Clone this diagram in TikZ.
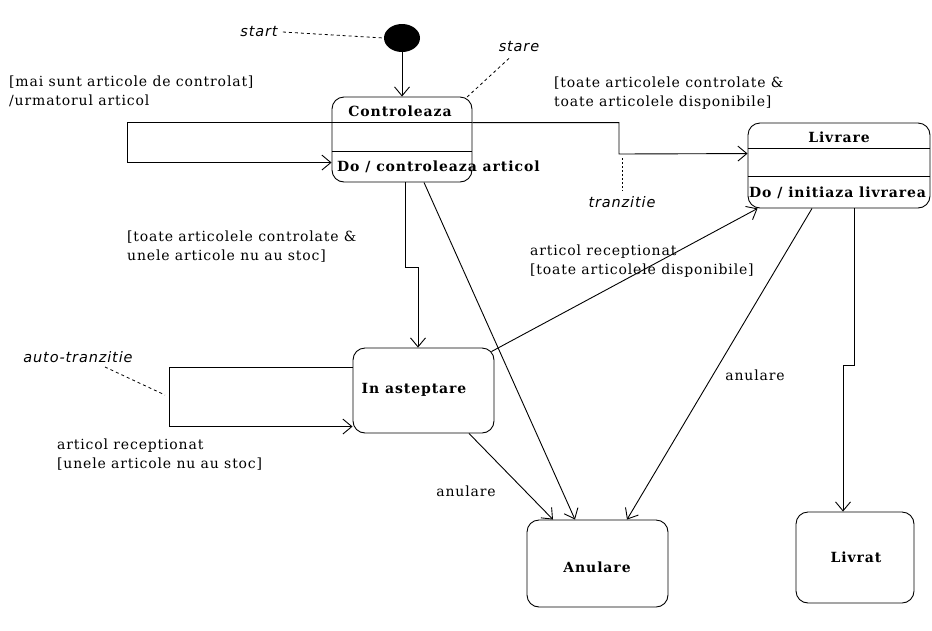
\documentclass[tikz,border=0pt]{standalone}
\usepackage{fontspec}
\setmainfont{DejaVu Serif}
\newfontfamily\notefont{DejaVu Sans}[LetterSpace=6]
\newfontfamily\lblfont{DejaVu Serif}[LetterSpace=6]
\newfontfamily\ttlfont{DejaVu Serif}[LetterSpace=6.5]
\usetikzlibrary{arrows.meta,shapes.geometric}
\begin{document}
\begin{tikzpicture}[x=1pt,y=-1pt,
  state/.style={draw, rounded corners=12pt, line width=0.9pt, inner sep=0pt},
  arr/.style={draw, line width=0.9pt, -{Straight Barb[length=9pt,width=15pt,line width=0.9pt]}},
  ln/.style={line width=0.9pt},
  lbl/.style={font=\lblfont\fontsize{14}{19}\selectfont, align=left, inner sep=0pt},
  ttl/.style={font=\ttlfont\fontsize{14}{16}\selectfont\bfseries, inner sep=0pt},
  note/.style={font=\notefont\itshape\fontsize{14.5}{17}\selectfont, inner sep=0pt},
  notelink/.style={line width=0.8pt, dash pattern=on 3pt off 3pt},
  dotlink/.style={line width=1pt, dash pattern=on 2pt off 2pt}
]
\fill[white] (0,0) rectangle (932,630);
\useasboundingbox (0,0) rectangle (932,630);

% states
\node[ellipse, fill=black, minimum width=36pt, minimum height=28pt, inner sep=0pt] (start) at (402,38) {};
\node[state, minimum width=140pt, minimum height=85pt] (ctrl) at (402,139.5) {};
\node[state, minimum width=182pt, minimum height=85pt] (liv) at (839,165.5) {};
\node[state, minimum width=141pt, minimum height=85pt] (wait) at (423.5,390.5) {};
\node[state, minimum width=141pt, minimum height=87pt] (anul) at (597.5,563.5) {};
\node[state, minimum width=118pt, minimum height=91pt] (livrat) at (855,557.5) {};

% compartments
\draw[ln] ([yshift=-26pt]ctrl.north west) -- ([yshift=-26pt]ctrl.north east);
\draw[ln] ([yshift=-55pt]ctrl.north west) -- ([yshift=-55pt]ctrl.north east);
\draw[ln] ([yshift=-26pt]liv.north west) -- ([yshift=-26pt]liv.north east);
\draw[ln] ([yshift=-54pt]liv.north west) -- ([yshift=-54pt]liv.north east);

% state texts
\node[ttl] (tctrl) at (400,111) {Controleaza};
\node[ttl, anchor=west] (dctrl) at (337,167) {Do / controleaza articol};
\node[ttl] (tliv) at (839,137) {Livrare};
\node[ttl, anchor=west] (dliv) at (749,193) {Do / initiaza livrarea};
\node[ttl] (twait) at (414,390) {In asteptare};
\node[ttl] (tanul) at (597,567) {Anulare};
\node[ttl] (tlivrat) at (856,557) {Livrat};

% transitions
\draw[arr] (start) -- (ctrl);
\draw[arr] ([yshift=-26pt]ctrl.north west) -- ++(-204,0) -- ++(0,40) -- ([yshift=-66pt]ctrl.north west);
\coordinate (tz) at (619,154);
\draw[arr] ([yshift=-26pt]ctrl.north east) -| (tz) -- ([yshift=-31pt]liv.north west);
\draw[arr] ([xshift=3pt]ctrl.south) -- ++(0,85) -| ([xshift=-5.5pt]wait.north);
\draw[arr] ([xshift=22pt]ctrl.south) -- ([xshift=-22.5pt]anul.north);
\draw[arr] ([xshift=45.5pt]wait.south) -- ([xshift=-44.5pt]anul.north);
\draw[arr] ([xshift=-27pt]liv.south) -- ([xshift=29.5pt]anul.north);
\draw[arr] ([xshift=-3pt,yshift=-4pt]wait.north east) -- ([xshift=10pt]liv.south west);
\draw[arr] ([xshift=15.5pt]liv.south) -- ++(0,157) -| ([xshift=-12pt]livrat.north);
\draw[arr] ([yshift=-20pt]wait.north west) -- ++(-183,0) -- ++(0,59) -- ([yshift=-79pt]wait.north west);

% transition labels
\node[lbl, anchor=west] (l1) at (9,91) {[mai sunt articole de controlat]\\/urmatorul articol};
\node[lbl, anchor=west] (l2) at (554,93) {[toate articolele controlate \&\\toate articolele disponibile]};
\node[lbl, anchor=west] (l3) at (127,247) {[toate articolele controlate \&\\unele articole nu au stoc]};
\node[lbl, anchor=west] (l4) at (57,455) {articol receptionat\\{[unele articole nu au stoc]}};
\node[lbl, anchor=west] (l5) at (530,261) {articol receptionat\\{[toate articolele disponibile]}};
\node[lbl] (l6) at (466,491) {anulare};
\node[lbl] (l7) at (755,375) {anulare};

% notes
\node[note] (nstart) at (259,32) {start};
\draw[notelink] (nstart.east) ++(5,0) -- (start.west);
\node[note] (nstare) at (519,47) {stare};
\coordinate (stareend) at (466,98);
\draw[notelink] ([xshift=-10pt,yshift=-6pt]nstare.south) -- (stareend);
\node[note] (ntz) at (622,202) {tranzitie};
\coordinate (tzdot) at (622,158);
\draw[dotlink] (tzdot) -- ([yshift=6pt]ntz.north);
\node[note] (nauto) at (78,357) {auto-tranzitie};
\coordinate (autoend) at (165,395);
\draw[notelink] (105,367) -- (autoend);
\end{tikzpicture}
\end{document}
